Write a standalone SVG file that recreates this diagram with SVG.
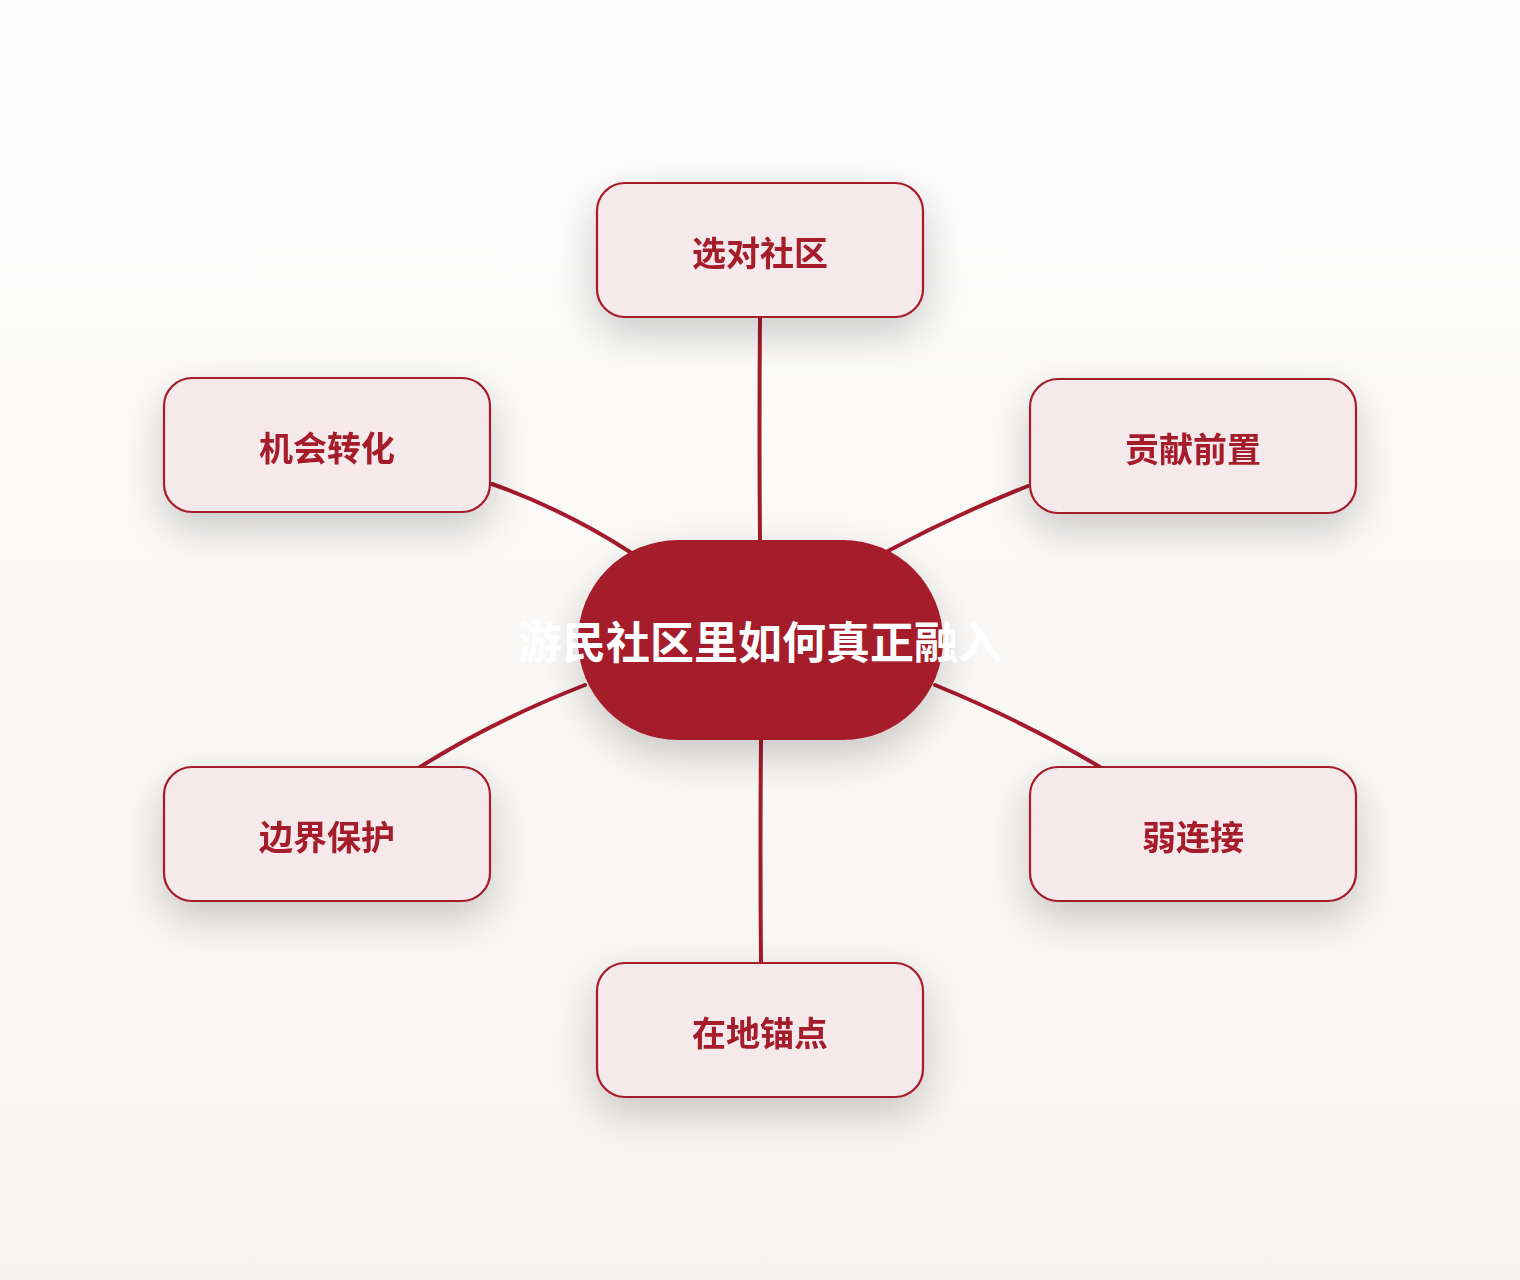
<svg xmlns="http://www.w3.org/2000/svg" width="1520" height="1280" viewBox="0 0 1520 1280">
<defs>
<linearGradient id="bg" x1="0" y1="0" x2="0" y2="1">
<stop offset="0" stop-color="#fdfdfd"/>
<stop offset="1" stop-color="#f7f4f0"/>
</linearGradient>
<filter id="sh" x="-40%" y="-50%" width="180%" height="210%">
<feGaussianBlur in="SourceAlpha" stdDeviation="20"/>
<feOffset dy="16" result="b"/>
<feComponentTransfer><feFuncA type="linear" slope="0.2"/></feComponentTransfer>
<feMerge><feMergeNode/><feMergeNode in="SourceGraphic"/></feMerge>
</filter>
<style>
.box{fill:#f5e9eb;stroke:#a51a2a;stroke-width:2.2}
.lbl{font-family:"Noto Sans CJK SC","Noto Sans",sans-serif;font-weight:700;font-size:34px;fill:#a51a2a;text-anchor:middle}
.ctr{fill:#a51a2a}
.ctrl{font-family:"Noto Sans CJK SC","Noto Sans",sans-serif;font-weight:700;font-size:44px;fill:#ffffff;text-anchor:middle}
.edge{fill:none;stroke:#a51a2a;stroke-width:4;stroke-linecap:round}
</style>
</defs>
<rect width="1520" height="1280" fill="url(#bg)"/>
<g id="connectors">
<path class="edge" d="M760 317 Q759 430 760 540"/>
<path class="edge" d="M492 484 Q565 510 630 552"/>
<path class="edge" d="M1028 486 Q955 515 888 551"/>
<path class="edge" d="M585 685 Q495 720 420 767"/>
<path class="edge" d="M935 685 Q1025 722 1100 767"/>
<path class="edge" d="M761 740 Q760 850 761 963"/>
</g>
<g id="center">
<rect class="ctr" x="578" y="540" width="365" height="200" rx="100" filter="url(#sh)"/>
<text class="ctrl" x="760" y="659">游民社区里如何真正融入</text>
</g>
<g id="n1" filter="url(#sh)">
<rect class="box" x="597" y="183" width="326" height="134" rx="28"/>
<text class="lbl" x="760" y="266">选对社区</text>
</g>
<g id="n2" filter="url(#sh)">
<rect class="box" x="1030" y="379" width="326" height="134" rx="28"/>
<text class="lbl" x="1193" y="462">贡献前置</text>
</g>
<g id="n3" filter="url(#sh)">
<rect class="box" x="1030" y="767" width="326" height="134" rx="28"/>
<text class="lbl" x="1193" y="850">弱连接</text>
</g>
<g id="n4" filter="url(#sh)">
<rect class="box" x="597" y="963" width="326" height="134" rx="28"/>
<text class="lbl" x="760" y="1046">在地锚点</text>
</g>
<g id="n5" filter="url(#sh)">
<rect class="box" x="164" y="767" width="326" height="134" rx="28"/>
<text class="lbl" x="327" y="850">边界保护</text>
</g>
<g id="n6" filter="url(#sh)">
<rect class="box" x="164" y="378" width="326" height="134" rx="28"/>
<text class="lbl" x="327" y="461">机会转化</text>
</g>
</svg>
